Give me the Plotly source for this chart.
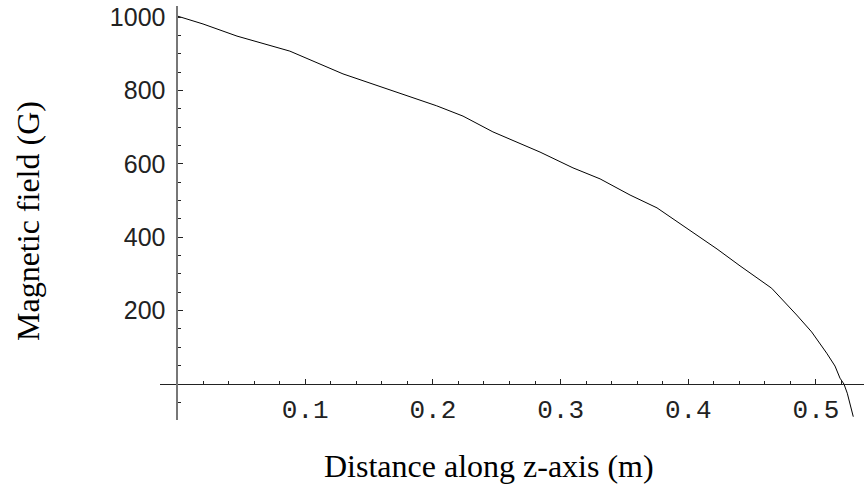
import plotly.graph_objects as go

z_m = [0.0004, 0.020, 0.0466, 0.088, 0.1296, 0.1766, 0.203, 0.2236, 0.247, 0.2839,
       0.3097, 0.3309, 0.3544, 0.3755, 0.4225, 0.4405, 0.4653, 0.4849, 0.4966,
       0.5084, 0.5149, 0.5188, 0.5219, 0.5245, 0.5292]
field_G = [1002, 981, 948, 907, 845, 788, 758, 730, 687, 632,
           589, 559, 515, 480, 368, 322, 261, 188, 142,
           84, 49, 16, 0, -25, -89]

x_tickvals = [0.1, 0.2, 0.3, 0.4, 0.5]
x_ticktext = ["0.1", "0.2", "0.3", "0.4", "0.5"]
y_tickvals = [200, 400, 600, 800, 1000]
y_ticktext = ["200", "400", "600", "800", "1000"]

x_range = [-0.0137, 0.5376]
y_range = [-98, 1030]

fig = go.Figure()
fig.add_trace(go.Scatter(x=z_m, y=field_G, mode="lines",
                         line=dict(color="black", width=1), showlegend=False,
                         hoverinfo="skip"))

x_pos = (0 - y_range[0]) / (y_range[1] - y_range[0])
y_pos = (0 - x_range[0]) / (x_range[1] - x_range[0])

fig.update_layout(
    width=864, height=495,
    margin=dict(l=160, r=0, t=6, b=75),
    paper_bgcolor="white", plot_bgcolor="white",
    xaxis=dict(range=x_range, anchor="free", position=x_pos,
               showgrid=False, zeroline=False,
               showline=True, linecolor="#222", linewidth=1,
               tickvals=x_tickvals, ticktext=x_ticktext,
               ticks="inside", ticklen=5, tickwidth=1, tickcolor="#222",
               ticklabelstandoff=2,
               tickfont=dict(family="Liberation Mono, Courier New, monospace", size=26, color="#222"),
               minor=dict(tickvals=[0.02, 0.04, 0.06, 0.08, 0.12, 0.14, 0.16, 0.18,
                                    0.22, 0.24, 0.26, 0.28, 0.32, 0.34, 0.36, 0.38,
                                    0.42, 0.44, 0.46, 0.48, 0.52],
                          ticks="inside", ticklen=3, tickwidth=1, tickcolor="#222")),
    yaxis=dict(range=y_range, anchor="free", position=y_pos,
               showgrid=False, zeroline=False,
               showline=True, linecolor="#777", linewidth=2,
               tickvals=y_tickvals, ticktext=y_ticktext,
               ticks="inside", ticklen=5, tickwidth=1, tickcolor="#222",
               ticklabelstandoff=6,
               tickfont=dict(family="Liberation Sans, Arial, sans-serif", size=25, color="#222"),
               minor=dict(tickvals=[-50, 50, 100, 150, 250, 300, 350, 450, 500, 550,
                                    650, 700, 750, 850, 900, 950],
                          ticks="inside", ticklen=3, tickwidth=1, tickcolor="#222")),
    annotations=[
        dict(text="Distance along z-axis (m)", x=489, y=466, xref="paper", yref="paper",
             xanchor="center", yanchor="middle", showarrow=False,
             font=dict(family="Liberation Serif, Times New Roman, serif", size=32, color="black")),
        dict(text="Magnetic field (G)", x=28, y=221, xref="paper", yref="paper",
             xanchor="center", yanchor="middle", showarrow=False, textangle=-90,
             font=dict(family="Liberation Serif, Times New Roman, serif", size=32, color="black")),
    ],
)

# convert pixel annotation positions to paper fractions
W, H = 864 - 160, 495 - 6 - 75
for a in fig.layout.annotations:
    px, py = a.x, a.y
    a.x = (px - 160) / W
    a.y = 1 - (py - 6) / H

fig.write_html("out.html")
